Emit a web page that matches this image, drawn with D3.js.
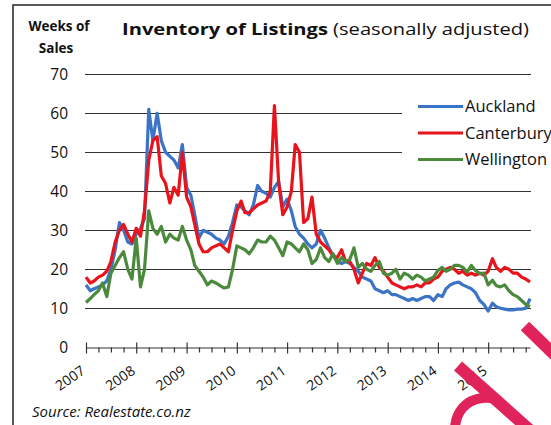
<!DOCTYPE html>
<html>
<head>
<meta charset="utf-8">
<script src="https://cdn.jsdelivr.net/npm/d3@7"></script>
<style>
    body { margin: 0; background: #fff; }
    text { font-family: "Open Sans", sans-serif; fill: #111; }
    .grid line { stroke: #333; stroke-width: 1; }
    .xAxis path, .xAxis line { stroke: #333; stroke-width: 1.2; }
    .series { fill: none; stroke-width: 3.2; stroke-linejoin: round; }
</style>
</head>
<body>
<script>
(function(){

//monthly weeks-of-sales values, Jan 2007 onwards
var auckland = [16,14.5,15,15.5,16,17,20,25,32,30,
    27,26.5,29,30.5,33,61,53,60,53,50,
    49,48,46,52,41,39,34,28,30,29.5,
    29,28,27.5,26.5,28.5,32,36.5,36,35,34,
    36.5,41.5,40,39.5,38.5,41,42.5,36,38,35,
    31,29,28,26.5,25.5,26.5,30,28,25.5,23.5,
    22,21.5,22,21.5,20.5,19.5,18,17.5,17,15,
    14.5,14,14.5,13.5,13.5,13,12.5,12,12.5,12,
    12.5,13,13,12,13.5,13,15,16,16.5,16.7,
    16,15.5,15,14,12,11,9.3,11.3,10.4,10,
    9.8,9.6,9.6,9.8,9.8,10,12.5];

var canterbury = [18,16.5,17,18,18.5,19.5,22,27,30,31.5,
    29,27,30.5,28.5,35,48,53,54,44,42,
    37,41,39,50,38.5,36,31.5,26.5,24.5,24.5,
    25.5,26,26.5,25.5,24.5,30,35,37.5,34.5,34.5,
    35.5,36.5,37,37.5,40,62,42,34,36,40,
    52,50,32,33,38.5,29,27,26,25,23.5,
    23,25,22,22,20,16.5,19,21.5,21,23,
    20.5,19.5,18,16.5,16,15.5,15,15.5,15.5,16,
    15.5,16.5,16.5,17.5,18,19.5,20,20.5,20,19,
    19.5,18.5,19,18.5,19,18.5,19.5,22.7,20.5,19.5,
    20.5,20,19,19,18,17.5,16.8];

var wellington = [11.5,12.5,13.5,14.5,16.5,13,19,21,23,24.5,
    20,17.5,28,15.5,20,35,30.5,29,31,27,
    29,28,27.5,31,27.5,25,21,19.5,18,16,
    17,16.5,15.8,15.2,15.5,20,26,25.5,25,24,
    25.5,27.5,27,27,28.5,27.5,25.5,23.5,27,26.5,
    25.5,24.5,26.5,25,21.5,22.5,25.5,23,22,24,
    21.5,23,22,22.5,25.5,20.5,21.5,20,19.5,21,
    22,19,18.5,19,20,17.5,19,18.5,17.5,18.5,
    18,17,17.5,18,19.7,20.5,19.5,20,21,21,
    20.5,19.3,21,19.7,18.9,19,16,17.2,15.8,15.5,
    16,14.5,13.5,13,12,11,10.4];

var seriesNames = ["Auckland", "Canterbury", "Wellington"];
var seriesColors = ["#3b74c6", "#e8131b", "#4b8a3d"];
var yearLabels = ["2007","2008","2009","2010","2011","2012","2013","2014","2015"];
var yTicks = [0, 10, 20, 30, 40, 50, 60, 70];

var width = 551,
    height = 425;

var svg = d3.select("body")
    .append("svg")
    .attr("width", width)
    .attr("height", height);

svg.append("rect")
    .attr("width", width)
    .attr("height", height)
    .attr("fill", "#fff");

//outer frame (left and top edges)
svg.append("path")
    .attr("d", "M13," + height + "V5H" + width)
    .attr("fill", "none")
    .attr("stroke", "#222")
    .attr("stroke-width", 1.5);

var startDate = new Date(2007, 0, 1);
var months = auckland.map(function(d, i){ return new Date(2007, i, 1); });

var x = d3.scaleTime()
    .domain([startDate, months[months.length - 1]])
    .range([86, 530]);

var y = d3.scaleLinear()
    .domain([0, 70])
    .range([347.3, 74.3]);

//horizontal gridlines
svg.append("g")
    .attr("class", "grid")
    .selectAll("line")
    .data(yTicks.slice(1))
    .enter()
    .append("line")
    .attr("x1", 85)
    .attr("x2", 531)
    .attr("y1", function(d){ return Math.round(y(d)) + 0.5; })
    .attr("y2", function(d){ return Math.round(y(d)) + 0.5; });

//y tick labels
svg.append("g")
    .selectAll("text")
    .data(yTicks)
    .enter()
    .append("text")
    .attr("x", 68)
    .attr("y", function(d){ return y(d); })
    .attr("dy", "0.36em")
    .attr("text-anchor", "end")
    .style("font-size", "15.5px")
    .text(function(d){ return d; });

//x axis with quarterly ticks, years get a taller tick
var quarters = d3.timeMonth.every(3).range(startDate, months[months.length - 1]);

var xAxis = svg.append("g")
    .attr("class", "xAxis")
    .attr("transform", "translate(0," + (Math.round(y(0)) + 0.5) + ")")
    .call(d3.axisBottom(x)
        .tickValues(quarters)
        .tickSize(5)
        .tickSizeOuter(0)
        .tickFormat(""));

xAxis.selectAll(".tick line")
    .attr("y1", function(d){ return d.getMonth() === 0 ? -5 : 0; })
    .attr("y2", function(d){ return d.getMonth() === 0 ? 6 : 5; });

//rotated year labels
svg.append("g")
    .selectAll("text")
    .data(yearLabels)
    .enter()
    .append("text")
    .attr("transform", function(d){
        return "translate(" + x(new Date(+d, 0, 1)) + ",373) rotate(-35)";
    })
    .attr("text-anchor", "end")
    .style("font-size", "14px")
    .text(function(d){ return d; });

//series lines
var line = d3.line()
    .x(function(d, i){ return x(months[i]); })
    .y(function(d){ return y(d); });

var allSeries = [auckland, canterbury, wellington];

svg.selectAll(".series")
    .data(allSeries)
    .enter()
    .append("path")
    .attr("class", "series")
    .attr("stroke", function(d, i){ return seriesColors[i]; })
    .attr("d", line);

//legend
var legend = svg.append("g");

legend.append("rect")
    .attr("x", 402)
    .attr("y", 92)
    .attr("width", width - 402)
    .attr("height", 80)
    .attr("fill", "#fff");

var legendItems = legend.selectAll(".legendItem")
    .data(seriesNames)
    .enter()
    .append("g")
    .attr("transform", function(d, i){ return "translate(0," + (106.5 + i * 26.5) + ")"; });

legendItems.append("line")
    .attr("x1", 418)
    .attr("x2", 463)
    .attr("stroke", function(d, i){ return seriesColors[i]; })
    .attr("stroke-width", 3.2);

legendItems.append("text")
    .attr("x", 465)
    .attr("dy", "0.36em")
    .style("font-size", "16.5px")
    .text(function(d){ return d; });

//titles
svg.append("text")
    .attr("x", 59)
    .attr("y", 31)
    .attr("text-anchor", "middle")
    .style("font-size", "13.5px")
    .style("font-weight", "bold")
    .text("Weeks of");

svg.append("text")
    .attr("x", 56)
    .attr("y", 53)
    .attr("text-anchor", "middle")
    .style("font-size", "13.5px")
    .style("font-weight", "bold")
    .text("Sales");

var title = svg.append("text")
    .attr("x", 122)
    .attr("y", 35)
    .attr("textLength", 407)
    .attr("lengthAdjust", "spacingAndGlyphs")
    .style("font-size", "16.5px");

title.append("tspan")
    .style("font-weight", "bold")
    .text("Inventory of Listings");

title.append("tspan")
    .text(" (seasonally adjusted)");

svg.append("text")
    .attr("x", 32)
    .attr("y", 417)
    .style("font-size", "15px")
    .style("font-style", "italic")
    .text("Source: Realestate.co.nz");

//hand-drawn pen strokes over the corner
var pen = svg.append("g")
    .attr("fill", "none")
    .attr("stroke", "#e1235b")
    .attr("stroke-linecap", "butt");

pen.append("path")
    .attr("d", "M458,366L532,432")
    .attr("stroke-width", 12);

pen.append("path")
    .attr("d", "M525,326L562,362")
    .attr("stroke-width", 12);

pen.append("path")
    .attr("d", "M455,430C455,412 466,400 482,398C490,397 496,399 500,402")
    .attr("stroke-width", 10);

})();
</script>
</body>
</html>
